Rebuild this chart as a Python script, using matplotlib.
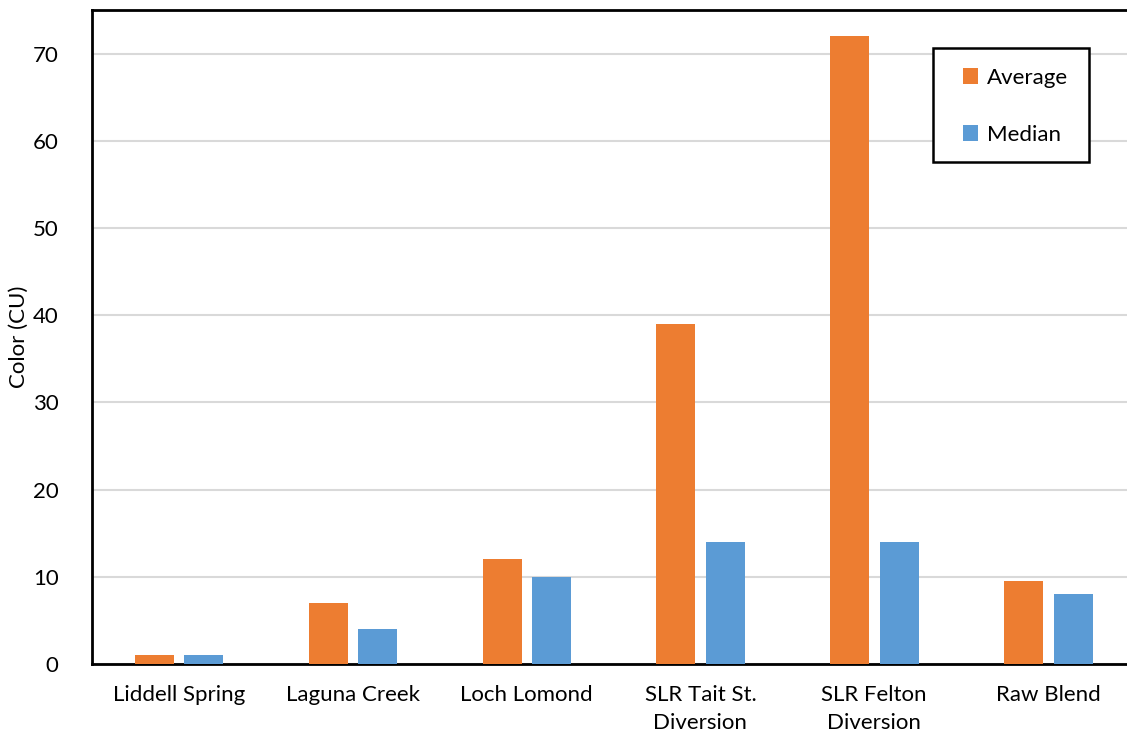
import numpy as np
import matplotlib.pyplot as plt
from matplotlib.patches import Rectangle

# sites and colour values (CU)
sites = ["Liddell Spring", "Laguna Creek", "Loch Lomond",
         "SLR Tait St.\nDiversion", "SLR Felton\nDiversion", "Raw Blend"]
average = [1, 7, 12, 39, 72, 9.5]
median = [1, 4, 10, 14, 14, 8]

plt.rcParams['font.family'] = ['Lato', 'DejaVu Sans']

fig = plt.figure(figsize=(11.27, 7.35), dpi=100)
# plot area runs a bit past the right edge, as in the original
ax = fig.add_axes([92/1127, (735-664)/735, (1135-92)/1127, (664-10)/735])

x = np.arange(len(sites))
w = 0.224
ax.bar(x - 0.141, average, w, color="#ED7D31", label="Average", zorder=3)
ax.bar(x + 0.144, median, w, color="#5B9BD5", label="Median", zorder=3)

ax.set_xlim(-0.5, len(sites) - 0.5)
ax.set_ylim(0, 75)
ax.set_yticks(range(0, 71, 10))
ax.set_xticks(x)
ax.set_xticklabels(sites, fontsize=16, linespacing=1.5)
ax.tick_params(axis='both', length=0, labelsize=16)
ax.tick_params(axis='x', pad=15)
ax.tick_params(axis='y', pad=24)
ax.yaxis.grid(True, color="#D9D9D9", linewidth=1.5, zorder=0)
ax.set_axisbelow(True)
for s in ax.spines.values():
    s.set_color("black")
    s.set_linewidth(2)

ax.set_ylabel("Color (CU)", fontsize=16)
ax.yaxis.set_label_coords(-63/1043, 0.5)

# legend box drawn separately so it can be wider than the entries
box = Rectangle((0.8063, 0.7676), 0.1496, 0.1743, transform=ax.transAxes,
                facecolor="white", edgecolor="black", linewidth=1.8,
                zorder=4, clip_on=False)
ax.add_patch(box)
leg = ax.legend(loc="upper left", bbox_to_anchor=(0.835, 0.912),
                frameon=False, fontsize=16,
                handlelength=0.7, handleheight=0.7, handletextpad=0.4,
                labelspacing=1.67, borderpad=0, borderaxespad=0)
leg.set_zorder(5)

fig.savefig("out.png", dpi=100)
